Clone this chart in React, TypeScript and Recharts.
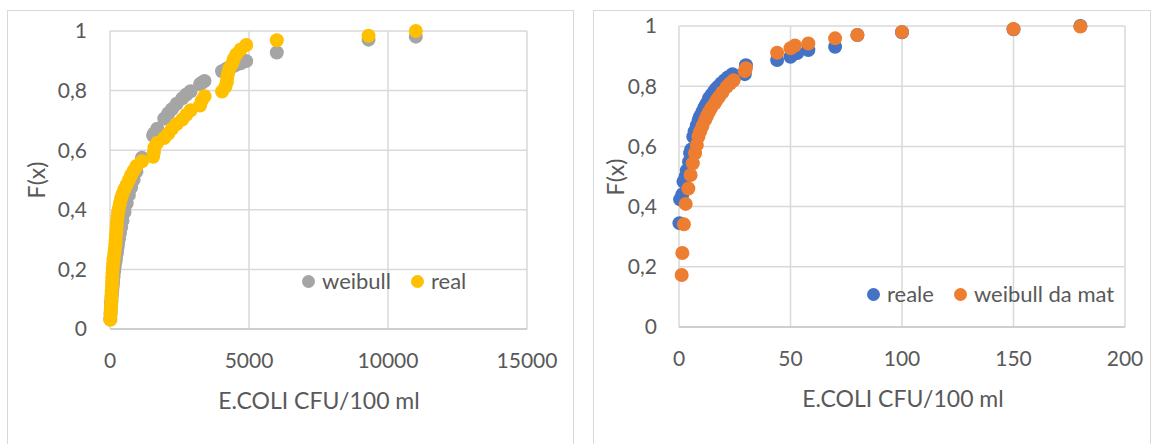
import { CartesianGrid, Legend, Scatter, ScatterChart, XAxis, YAxis } from "recharts";

// left chart: one x per sample, F(x) real vs weibull fit
const leftX = [
  10, 20, 30, 40, 45, 50, 60, 70, 75, 80,
  90, 100, 110, 130, 150, 170, 190, 200, 210, 230,
  240, 250, 270, 290, 320, 360, 400, 450, 520, 600,
  680, 760, 850, 950, 1150, 1550, 1580, 1600, 1700, 1950,
  2100, 2230, 2400, 2600, 2750, 2900, 3240, 3300, 3400, 4030,
  4150, 4200, 4220, 4250, 4300, 4400, 4450, 4550, 4700, 4900,
  6000, 9300, 11000,
];
const leftReal = [
  0.031, 0.047, 0.062, 0.078, 0.094, 0.109, 0.125, 0.141, 0.156, 0.172,
  0.188, 0.203, 0.219, 0.234, 0.25, 0.266, 0.281, 0.297, 0.313, 0.328,
  0.344, 0.359, 0.375, 0.391, 0.406, 0.422, 0.438, 0.453, 0.469, 0.484,
  0.5, 0.516, 0.531, 0.547, 0.563, 0.578, 0.594, 0.609, 0.625, 0.641,
  0.656, 0.672, 0.688, 0.703, 0.719, 0.734, 0.75, 0.766, 0.781, 0.797,
  0.813, 0.828, 0.844, 0.859, 0.875, 0.891, 0.906, 0.922, 0.938, 0.953,
  0.969, 0.984, 1.0,
];
const leftWeibull = [
  0.033, 0.053, 0.069, 0.083, 0.09, 0.096, 0.108, 0.12, 0.125, 0.13,
  0.14, 0.15, 0.159, 0.176, 0.193, 0.208, 0.222, 0.229, 0.236, 0.249,
  0.255, 0.261, 0.273, 0.285, 0.301, 0.322, 0.341, 0.363, 0.392, 0.422,
  0.45, 0.475, 0.501, 0.528, 0.575, 0.649, 0.654, 0.657, 0.672, 0.706,
  0.724, 0.738, 0.756, 0.774, 0.787, 0.798, 0.822, 0.826, 0.832, 0.865,
  0.87, 0.873, 0.874, 0.875, 0.877, 0.881, 0.883, 0.887, 0.892, 0.899,
  0.928, 0.971, 0.981,
];
const leftXTicks = [0, 5000, 10000, 15000];

// right chart: reale / weibull da mat
const rightRealX = [
  0.2, 0.5, 1.5, 2, 3, 3.5, 4.5, 5, 5.5, 6.4, 7, 8, 8.8, 9.5, 10.5, 11.5, 12.4, 13.5, 14.5,
  15.5, 16.5, 17.5, 19, 20.5, 22, 24, 29.5, 30, 44, 50, 51, 53, 58, 70, 80, 100, 150, 180,
];
const rightRealY = [
  0.345, 0.424, 0.44, 0.483, 0.5, 0.52, 0.549, 0.577, 0.59, 0.632, 0.65, 0.67, 0.688, 0.7, 0.715,
  0.73, 0.743, 0.76, 0.77, 0.78, 0.79, 0.798, 0.81, 0.82, 0.83, 0.84, 0.84, 0.87, 0.887, 0.898,
  0.905, 0.91, 0.92, 0.931, 0.97, 0.979, 0.989, 1.0,
];
const rightWeibX = [
  1.2, 1.5, 2.2, 3, 4.2, 5.2, 6.2, 7.2, 8, 8.7, 9.5, 10.5, 11.7, 12.5, 13.5, 14.5, 16, 17, 18,
  19.5, 21.4, 23, 24.5, 29.5, 30, 44, 50, 52, 58, 70, 80, 100, 150, 180,
];
const rightWeibY = [
  0.173, 0.246, 0.341, 0.409, 0.46, 0.505, 0.544, 0.577, 0.605, 0.632, 0.65, 0.668, 0.688, 0.7,
  0.715, 0.728, 0.743, 0.755, 0.765, 0.78, 0.798, 0.81, 0.82, 0.85, 0.86, 0.911, 0.926, 0.935,
  0.942, 0.959, 0.97, 0.98, 0.99, 0.998,
];
const rightXTicks = [0, 50, 100, 150, 200];

const yTicks = [0, 0.2, 0.4, 0.6, 0.8, 1];

const FONT = "Lato, 'Open Sans', sans-serif";
const TEXT = "#595959";
const GRID = "#D9D9D9";

const zip = (xs: number[], ys: number[]) => xs.map((x, i) => ({ x, y: ys[i] }));
const fmtY = (v: number) => String(v).replace(".", ",");

const dot = (color: string) => (p: any) => <circle cx={p.cx} cy={p.cy} r={7} fill={color} />;

function LegendRow({ items }: { items: { name: string; color: string }[] }) {
  return (
    <div style={{ display: "flex", fontFamily: FONT, fontSize: 22, color: TEXT, lineHeight: "26px" }}>
      {items.map((it) => (
        <div key={it.name} style={{ display: "flex", alignItems: "center", marginRight: 20 }}>
          <span style={{ width: 13, height: 13, borderRadius: "50%", background: it.color, marginRight: 7 }} />
          {it.name}
        </div>
      ))}
    </div>
  );
}

const tick = { fill: TEXT, fontSize: 21, fontFamily: FONT };

function AxisTitles({ xCenter, xTop, yCenterX, yCenterY }: { xCenter: number; xTop: number; yCenterX: number; yCenterY: number }) {
  const style = { position: "absolute" as const, fontFamily: FONT, fontSize: 23, color: TEXT, whiteSpace: "nowrap" as const };
  return (
    <>
      <div style={{ ...style, left: xCenter, top: xTop, transform: "translate(-50%, -50%)" }}>E.COLI CFU/100 ml</div>
      <div style={{ ...style, left: yCenterX, top: yCenterY, transform: "translate(-50%, -50%) rotate(-90deg)" }}>F(x)</div>
    </>
  );
}

export default function App() {
  const leftWeibData = zip(leftX, leftWeibull);
  const leftRealData = zip(leftX, leftReal);
  const rightRealData = zip(rightRealX, rightRealY);
  const rightWeibData = zip(rightWeibX, rightWeibY);

  return (
    <div style={{ position: "absolute", left: 0, top: 0, width: 1156, height: 444, overflow: "hidden", background: "#fff" }}>
      <div style={{ position: "absolute", left: 7, top: 10, width: 567, height: 470, border: `1px solid ${GRID}`, boxSizing: "border-box" }} />
      <div style={{ position: "absolute", left: 593, top: 10, width: 558, height: 470, border: `1px solid ${GRID}`, boxSizing: "border-box" }} />

      <div style={{ position: "absolute", left: 7, top: 10 }}>
        <ScatterChart width={567} height={434} margin={{ top: 21, right: 47, bottom: 85, left: 43 }}>
          <CartesianGrid stroke={GRID} strokeWidth={1.5} />
          <XAxis
            type="number"
            dataKey="x"
            domain={[0, 15000]}
            ticks={leftXTicks}
            tick={tick}
            tickLine={false}
            tickSize={0}
            tickMargin={24}
            axisLine={{ stroke: "#C8C8C8", strokeWidth: 1.5 }}
            height={30}
          />
          <YAxis
            type="number"
            dataKey="y"
            domain={[0, 1]}
            ticks={yTicks}
            tickFormatter={fmtY}
            tick={tick}
            tickLine={false}
            tickSize={0}
            tickMargin={23}
            axisLine={false}
            width={60}
          />
          <Legend
            layout="horizontal"
            verticalAlign="middle"
            align="center"
            content={() => (
              <LegendRow items={[{ name: "weibull", color: "#A5A5A5" }, { name: "real", color: "#FFC000" }]} />
            )}
            wrapperStyle={{ position: "absolute", left: 295, top: 258, width: "auto" }}
          />
          <Scatter name="weibull" data={leftWeibData} fill="#A5A5A5" shape={dot("#A5A5A5")} isAnimationActive={false} />
          <Scatter name="real" data={leftRealData} fill="#FFC000" shape={dot("#FFC000")} isAnimationActive={false} />
        </ScatterChart>
      </div>
      <AxisTitles xCenter={319} xTop={400} yCenterX={36} yCenterY={180} />

      <div style={{ position: "absolute", left: 593, top: 10 }}>
        <ScatterChart width={557} height={434} margin={{ top: 16, right: 25, bottom: 87, left: 26 }}>
          <CartesianGrid stroke={GRID} strokeWidth={1.5} />
          <XAxis
            type="number"
            dataKey="x"
            domain={[0, 200]}
            ticks={rightXTicks}
            tick={tick}
            tickLine={false}
            tickSize={0}
            tickMargin={24}
            axisLine={{ stroke: "#C8C8C8", strokeWidth: 1.5 }}
            height={30}
          />
          <YAxis
            type="number"
            dataKey="y"
            domain={[0, 1]}
            ticks={yTicks}
            tickFormatter={fmtY}
            tick={tick}
            tickLine={false}
            tickSize={0}
            tickMargin={22}
            axisLine={false}
            width={60}
          />
          <Legend
            layout="horizontal"
            verticalAlign="middle"
            align="center"
            content={() => (
              <LegendRow items={[{ name: "reale", color: "#4472C4" }, { name: "weibull da mat", color: "#ED7D31" }]} />
            )}
            wrapperStyle={{ position: "absolute", left: 274, top: 271, width: "auto" }}
          />
          <Scatter name="reale" data={rightRealData} fill="#4472C4" shape={dot("#4472C4")} isAnimationActive={false} />
          <Scatter name="weibull da mat" data={rightWeibData} fill="#ED7D31" shape={dot("#ED7D31")} isAnimationActive={false} />
        </ScatterChart>
      </div>
      <AxisTitles xCenter={903} xTop={398} yCenterX={615} yCenterY={177} />
    </div>
  );
}
